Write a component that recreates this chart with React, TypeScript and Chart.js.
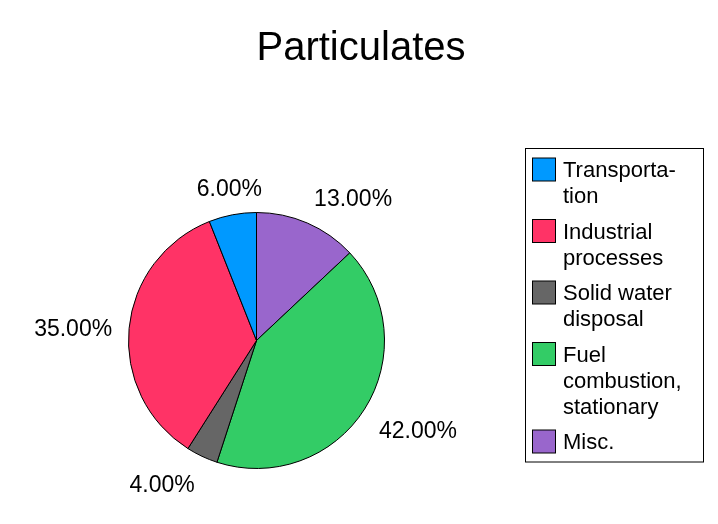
import React, { useEffect, useRef } from "react";
import { Chart, registerables } from "chart.js";

Chart.register(...registerables);

const TITLE = "Particulates";
const categories = ["Transportation", "Industrial processes", "Solid water disposal", "Fuel combustion, stationary", "Misc."];
const legendLines = [["Transporta-", "tion"], ["Industrial", "processes"], ["Solid water", "disposal"], ["Fuel", "combustion,", "stationary"], ["Misc."]];
const values = [6, 35, 4, 42, 13];
const colors = ["#0099FF", "#FF3366", "#666666", "#33CC66", "#9966CC"];

const FONT = "'Liberation Sans', Arial, Helvetica, sans-serif";

const decorPlugin = {
  id: "decor",
  afterDraw(chart: any) {
    const ctx = chart.ctx as CanvasRenderingContext2D;
    ctx.save();
    // Title
    ctx.fillStyle = "#000";
    ctx.font = `40px ${FONT}`;
    ctx.textAlign = "center";
    ctx.textBaseline = "alphabetic";
    ctx.fillText(TITLE, chart.width / 2 + 2, 60);

    // Percentage labels
    const meta = chart.getDatasetMeta(0);
    const data = chart.data.datasets[0].data as number[];
    const total = data.reduce((a, b) => a + b, 0);
    ctx.font = `23px ${FONT}`;
    ctx.textBaseline = "middle";
    meta.data.forEach((arc: any, i: number) => {
      const p = arc.getProps(["x", "y", "startAngle", "endAngle", "outerRadius"], true);
      const mid = (p.startAngle + p.endAngle) / 2;
      const dx = Math.cos(mid);
      const dy = Math.sin(mid);
      const r = p.outerRadius + 17;
      const ax = p.x + dx * r;
      const ay = p.y + dy * r;
      const txt = ((data[i] / total) * 100).toFixed(2) + "%";
      if (Math.abs(dx) < 0.3) ctx.textAlign = "center";
      else if (dx > 0) ctx.textAlign = "left";
      else ctx.textAlign = "right";
      const yOff = dy > 0.3 && dx > 0.3 ? dy * 12 + 7 : dy * 12 + 3.5;
      ctx.fillText(txt, ax, ay + yOff);
    });

    // Legend
    const boxX = 525.5;
    const boxY = 148.5;
    const boxW = 178;
    const lh = 26;
    const gap = 9.5;
    const sw = 23;
    let baseline = 177;
    ctx.font = `22px ${FONT}`;
    ctx.textAlign = "left";
    ctx.textBaseline = "alphabetic";
    let lastBottom = baseline;
    categories.forEach((_, i) => {
      const lines = legendLines[i];
      ctx.fillStyle = colors[i];
      ctx.fillRect(532.5, baseline - 19, sw, sw);
      ctx.strokeStyle = "#000";
      ctx.lineWidth = 1;
      ctx.strokeRect(532.5, baseline - 19, sw, sw);
      ctx.fillStyle = "#000";
      lines.forEach((ln, j) => {
        ctx.fillText(ln, 563, baseline + j * lh);
      });
      lastBottom = baseline + (lines.length - 1) * lh;
      baseline += lines.length * lh + gap;
    });
    ctx.strokeStyle = "#000";
    ctx.lineWidth = 1;
    ctx.strokeRect(boxX, boxY, boxW, lastBottom + 13 - boxY);
    ctx.restore();
  },
};

export default function App() {
  const ref = useRef<HTMLCanvasElement | null>(null);
  useEffect(() => {
    if (!ref.current) return;
    const pieLabels = [...categories].reverse();
    const pieValues = [...values].reverse();
    const pieColors = [...colors].reverse();
    const chart = new Chart(ref.current, {
      type: "pie",
      data: {
        labels: pieLabels,
        datasets: [
          {
            data: pieValues,
            backgroundColor: pieColors,
            borderColor: "#000",
            borderWidth: 1,
          },
        ],
      },
      options: {
        responsive: false,
        animation: false,
        layout: { padding: { left: 128, right: 333, top: 212, bottom: 55 } },
        plugins: {
          legend: { display: false },
          title: { display: false },
          tooltip: { enabled: false },
        },
      },
      plugins: [decorPlugin],
    });
    return () => chart.destroy();
  }, []);
  return (
    <div style={{ position: "absolute", left: 0, top: 0, width: 718, height: 524, background: "#fff" }}>
      <canvas ref={ref} width={718} height={524} />
    </div>
  );
}
